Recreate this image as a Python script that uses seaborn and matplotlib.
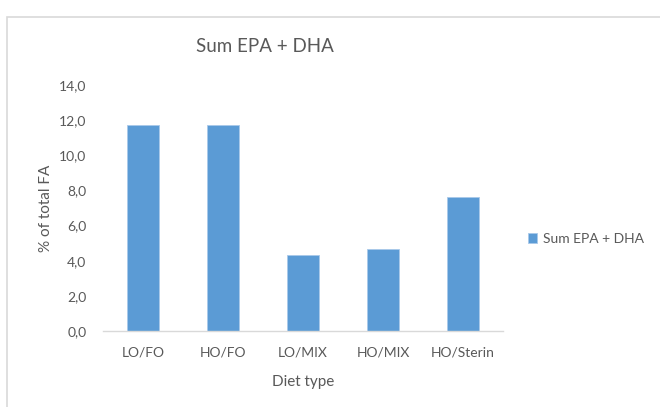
import matplotlib
matplotlib.use("Agg")
import matplotlib.pyplot as plt
import seaborn as sns
import pandas as pd
from matplotlib.patches import Rectangle
from matplotlib.ticker import FuncFormatter

diets = ["LO/FO", "HO/FO", "LO/MIX", "HO/MIX", "HO/Sterin"]
epa_dha = [11.75, 11.75, 4.3, 4.65, 7.65]
series_name = "Sum EPA + DHA"

df = pd.DataFrame({"Diet type": diets, "value": epa_dha, "series": series_name})

sns.set_theme(style="white")
plt.rcParams["font.family"] = ["Lato", "DejaVu Sans"]

text_color = "#595959"
bar_color = "#5b9bd5"

fig = plt.figure(figsize=(6.6, 4.07), dpi=100)
ax = fig.add_axes([103 / 660, 1 - 331 / 407, 400 / 660, 246 / 407])

sns.barplot(data=df, x="Diet type", y="value", hue="series",
            palette=[bar_color], saturation=1, width=0.4, ax=ax, legend=True,
            edgecolor="#a9c9ea", linewidth=0.6)

ax.set_ylim(0, 14)
ax.set_xlim(-0.5, 4.5)
ax.set_yticks(range(0, 15, 2))
ax.yaxis.set_major_formatter(FuncFormatter(lambda v, p: f"{v:.1f}".replace(".", ",")))
ax.tick_params(axis="both", colors=text_color, labelsize=10, length=0)
ax.tick_params(axis="y", pad=12)
ax.tick_params(axis="x", pad=11)

for s in ["top", "right", "left"]:
    ax.spines[s].set_visible(False)
ax.spines["bottom"].set_color("#d9d9d9")
ax.spines["bottom"].set_linewidth(1)

ax.set_xlabel("Diet type", color=text_color, fontsize=11, labelpad=12)
ax.set_ylabel("% of total FA", color=text_color, fontsize=11, labelpad=4)

fig.text(265 / 660, 1 - 47 / 407, "Sum EPA + DHA", ha="center", va="center",
         color=text_color, fontsize=13.5)

leg = ax.legend(loc="center left", bbox_to_anchor=(1.03, 0.375), frameon=False,
                fontsize=10, handlelength=0.7, handleheight=0.7, handletextpad=0.4)
for t in leg.get_texts():
    t.set_color(text_color)

# chart area border
fig.patches.append(Rectangle((7 / 660, -0.05), 1.0, 1 - 16.5 / 407 + 0.05,
                             transform=fig.transFigure, fill=False,
                             edgecolor="#d9d9d9", linewidth=1.2))

fig.savefig("out.png", dpi=100, facecolor="white")
